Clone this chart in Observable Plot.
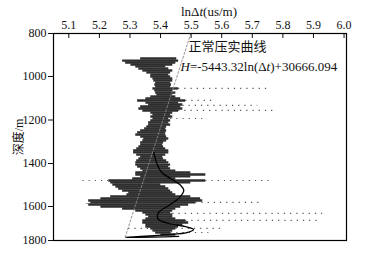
<!DOCTYPE html>
<html><head><meta charset="utf-8">
<script src="https://cdn.jsdelivr.net/npm/d3@7"></script>
<script src="https://cdn.jsdelivr.net/npm/@observablehq/plot@0.6"></script>
<style>
body{margin:0;background:#fff}
</style>
</head><body><div id="chart"></div>
<script>
const xTicks = [5.1, 5.2, 5.3, 5.4, 5.5, 5.6, 5.7, 5.8, 5.9, 6.0];
const yTicks = [800, 1000, 1200, 1400, 1600, 1800];

// dense band of the measured ln(Δt) log: depth, low edge, high edge
const bandDepth = [916,926,935,944,953,963,972,981,991,1000,1009,1018,1028,1037,1046,1055,1064,1074,1083,1092,1101,1110,1120,1129,1138,1147,1156,1166,1175,1184,1193,1202,1211,1221,1230,1239,1248,1257,1267,1276,1285,1294,1303,1313,1322,1331,1340,1349,1359,1368,1377,1386,1395,1405,1414,1423,1433,1442,1451,1460,1470,1479,1488,1498,1507,1516,1526,1535,1544,1553,1563,1572,1581,1591,1600,1612,1624,1635,1647,1659,1671,1682,1694,1706,1718,1729,1741,1753,1765];
const bandLow = [5.335,5.276,5.286,5.303,5.319,5.329,5.342,5.355,5.368,5.368,5.375,5.378,5.384,5.381,5.384,5.375,5.381,5.384,5.388,5.368,5.352,5.325,5.352,5.361,5.335,5.329,5.342,5.368,5.375,5.368,5.375,5.368,5.361,5.361,5.355,5.348,5.335,5.325,5.319,5.335,5.345,5.342,5.335,5.335,5.329,5.322,5.312,5.312,5.322,5.335,5.329,5.322,5.319,5.319,5.325,5.335,5.342,5.319,5.319,5.335,5.309,5.231,5.237,5.244,5.254,5.263,5.276,5.296,5.290,5.237,5.205,5.165,5.172,5.165,5.205,5.276,5.319,5.342,5.352,5.361,5.352,5.342,5.342,5.352,5.352,5.368,5.375,5.384,5.401];
const bandHigh = [5.453,5.459,5.450,5.440,5.417,5.427,5.440,5.433,5.427,5.433,5.440,5.440,5.433,5.436,5.433,5.459,5.440,5.450,5.440,5.450,5.466,5.482,5.459,5.473,5.466,5.473,5.459,5.440,5.433,5.440,5.427,5.433,5.427,5.433,5.420,5.417,5.420,5.417,5.417,5.420,5.427,5.420,5.410,5.407,5.410,5.417,5.427,5.427,5.417,5.407,5.410,5.420,5.427,5.433,5.427,5.433,5.450,5.499,5.548,5.499,5.450,5.548,5.499,5.401,5.417,5.427,5.433,5.440,5.450,5.499,5.531,5.538,5.515,5.492,5.466,5.450,5.440,5.433,5.440,5.440,5.450,5.482,5.492,5.473,5.459,5.450,5.440,5.433,5.450];

// sparse scattered rows of points
const sparseDepth = [1055,1110,1133,1156,1193,1479,1479,1581,1586,1641,1682,1729,1729,1753];
const sparseLow  = [5.459,5.482,5.473,5.459,5.433,5.146,5.548,5.515,5.159,5.440,5.482,5.450,5.296,5.433];
const sparseHigh = [5.750,5.574,5.718,5.770,5.538,5.231,5.760,5.737,5.205,5.930,5.914,5.597,5.368,5.558];

// normal compaction trend line (dashed)
const trendDepth = [800, 1788];
const trendX = [5.499, 5.283];

// smoothed solid curve
const curveDepth = [1349,1400,1442,1470,1502,1526,1563,1595,1635,1671,1700,1718,1735,1753,1782,1776];
const curveX = [5.378,5.388,5.404,5.433,5.466,5.476,5.459,5.427,5.394,5.391,5.427,5.482,5.508,5.486,5.286,5.459];

const band = bandDepth.map((d, i) => ({d, lo: bandLow[i], hi: bandHigh[i]}));
const sparse = sparseDepth.map((d, i) => ({d, lo: sparseLow[i], hi: sparseHigh[i]}));
const trend = trendDepth.map((d, i) => ({d, x: trendX[i]}));
const curve = curveDepth.map((d, i) => ({d, x: curveX[i]}));

const chart = Plot.plot({
  width: 367,
  height: 264,
  marginTop: 33,
  marginBottom: 24,
  marginLeft: 53,
  marginRight: 21,
  style: {fontSize: "12px", background: "#fff", color: "#111", fontFamily: "Liberation Serif, serif"},
  x: {domain: [5.05, 6.008]},
  y: {type: "linear", domain: [800, 1000, 1200, 1400, 1600, 1800], range: [33, 76, 119.5, 163, 206, 240]},
  marks: [
    Plot.ruleY(band, {y: "d", x1: "lo", x2: "hi", stroke: "#2e2e2e", strokeWidth: 2.4}),
    Plot.ruleY(sparse, {y: "d", x1: "lo", x2: "hi", stroke: "#555", strokeWidth: 1.2, strokeDasharray: "1.2,5"}),
    Plot.line(trend, {x: "x", y: "d", stroke: "#888", strokeWidth: 0.9, strokeDasharray: "2,2"}),
    Plot.line(curve, {x: "x", y: "d", stroke: "#000", strokeWidth: 1.3, curve: "catmull-rom"}),
    Plot.frame({stroke: "#000", strokeWidth: 1.2}),
    Plot.axisX({anchor: "top", ticks: xTicks, tickFormat: d => d.toFixed(1), tickSize: -4, tickPadding: 9, label: null, fontSize: 12}),
    Plot.axisY({anchor: "left", ticks: yTicks, tickFormat: d => String(d), tickSize: 5, tickPadding: 2, label: "深度/m", labelAnchor: "center", labelOffset: 39, labelArrow: "none", fontSize: 12}),
    Plot.text(["lnΔt(us/m)"], {text: d => d, frameAnchor: "top", dx: 9, dy: -22, lineAnchor: "middle", fontSize: 13}),
    Plot.text(["正常压实曲线"], {text: d => d, frameAnchor: "top-left", dx: 135, dy: 13.5, textAnchor: "start", lineAnchor: "middle", fontSize: 13}),
    Plot.text(["H=-5443.32ln(Δt)+30666.094"], {text: d => d, frameAnchor: "top-left", dx: 127, dy: 33, textAnchor: "start", lineAnchor: "middle", fontSize: 13})
  ]
});

chart.querySelectorAll("text").forEach(t => {
  t.style.fontFamily = "'Liberation Serif', 'Noto Sans CJK SC', serif";
  if (t.children.length) return;
  const s = t.textContent;
  if (s === "lnΔt(us/m)") t.innerHTML = 'lnΔ<tspan font-style="italic">t</tspan>(us/m)';
  if (s === "H=-5443.32ln(Δt)+30666.094") t.innerHTML = '<tspan font-style="italic">H</tspan>=-5443.32ln(Δ<tspan font-style="italic">t</tspan>)+30666.094';
});

document.getElementById("chart").appendChild(chart);
</script>
</body></html>
